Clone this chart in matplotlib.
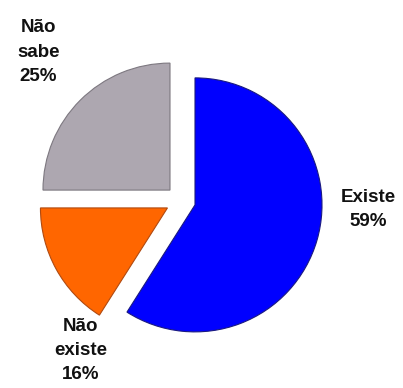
"""Exploded pie of answers: existe / não existe / não sabe."""

import matplotlib.pyplot as plt

labels = ["Existe", "Não\nexiste", "Não\nsabe"]
shares = [59, 16, 25]
colors = ["#0000FF", "#FF6600", "#ADA7B0"]
edge_colors = ["#1a1a80", "#b04a10", "#7d7880"]

# label anchor points (centre of each text block), in pie-radius units
label_xy = [(1.48, -0.07), (-0.79, -1.18), (-1.12, 1.17)]

W, H, DPI = 403, 388, 100
R_PX = 127.0
CX, CY = 180.6, 200.7  # pie centre in pixels (from top-left)

fig = plt.figure(figsize=(W / DPI, H / DPI), dpi=DPI)
ax = fig.add_axes([0, 0, 1, 1])

wedges, _ = ax.pie(
    shares,
    colors=colors,
    startangle=90,
    counterclock=False,
    radius=1.0,
    explode=[15 / R_PX] * len(shares),
    wedgeprops=dict(linewidth=0.8),
)
for w, ec in zip(wedges, edge_colors):
    w.set_edgecolor(ec)

for name, value, (x, y) in zip(labels, shares, label_xy):
    ax.text(
        x, y, f"{name}\n{value}%",
        ha="center", va="center",
        fontsize=13.5, fontweight="bold", family="Liberation Sans",
        linespacing=1.55, color="#111111",
    )

ax.set_xlim(-CX / R_PX, (W - CX) / R_PX)
ax.set_ylim(-(H - CY) / R_PX, CY / R_PX)
ax.set_aspect("equal")
ax.axis("off")

fig.savefig("out.png", dpi=DPI)
